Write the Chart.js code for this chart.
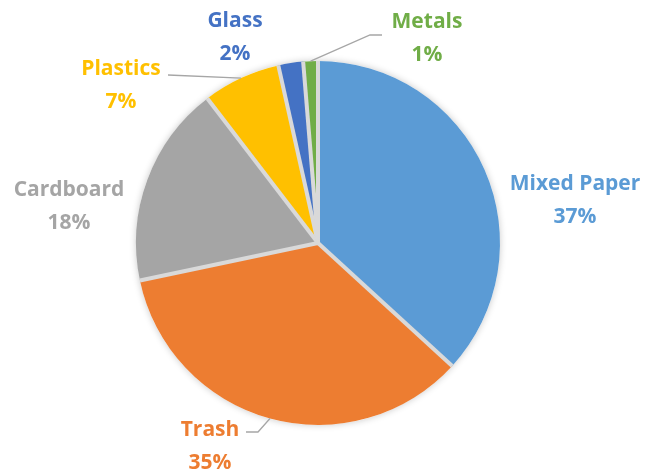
<!DOCTYPE html>
<html>
<head>
<meta charset="utf-8">
<script src="https://cdn.jsdelivr.net/npm/chart.js@4"></script>
<style>
html,body{margin:0;padding:0;background:#fff;}
</style>
</head>
<body>
<canvas id="wasteChart" width="647" height="471"></canvas>
<script>
// -----------------Data
const categories = ['Mixed Paper', 'Trash', 'Cardboard', 'Plastics', 'Glass', 'Metals'];
const shares = [36.8, 34.9, 17.9, 6.9, 2.2, 1.3];
const sliceColors = ['#5B9BD5', '#ED7D31', '#A5A5A5', '#FFC000', '#4472C4', '#70AD47'];

// where each two-line label sits, plus elbow points for the leader lines
const labelSpots = [
  {x: 575, y: 200},
  {x: 210, y: 446, leader: [[258, 432], [246, 432]]},
  {x: 69, y: 206},
  {x: 121, y: 85, leader: [[168, 75]]},
  {x: 235, y: 37},
  {x: 427, y: 38, leader: [[370, 35], [382, 35]]}
];

const sliceDecor = {
  id: 'sliceDecor',
  beforeDatasetsDraw(chart) {
    const arc = chart.getDatasetMeta(0).data[0];
    if (!arc) return;
    const ctx = chart.ctx;
    ctx.save();
    ctx.shadowColor = 'rgba(0,0,0,0.22)';
    ctx.shadowBlur = 7;
    ctx.fillStyle = '#ffffff';
    ctx.beginPath();
    ctx.arc(arc.x, arc.y, arc.outerRadius, 0, Math.PI * 2);
    ctx.fill();
    ctx.restore();
  },
  afterDatasetsDraw(chart) {
    const ctx = chart.ctx;
    const arcs = chart.getDatasetMeta(0).data;
    const total = shares.reduce((a, b) => a + b, 0);

    // separators between slices
    ctx.save();
    ctx.strokeStyle = '#d9d9d9';
    ctx.lineWidth = 4;
    arcs.forEach(a => {
      ctx.beginPath();
      ctx.moveTo(a.x, a.y);
      ctx.lineTo(a.x + Math.cos(a.startAngle) * a.outerRadius, a.y + Math.sin(a.startAngle) * a.outerRadius);
      ctx.stroke();
    });
    ctx.restore();

    // leader lines
    ctx.save();
    ctx.strokeStyle = '#a6a6a6';
    ctx.lineWidth = 1.3;
    arcs.forEach((a, i) => {
      const spot = labelSpots[i];
      if (!spot.leader) return;
      const mid = (a.startAngle + a.endAngle) / 2;
      ctx.beginPath();
      ctx.moveTo(a.x + Math.cos(mid) * a.outerRadius, a.y + Math.sin(mid) * a.outerRadius);
      spot.leader.forEach(p => ctx.lineTo(p[0], p[1]));
      ctx.stroke();
    });
    ctx.restore();

    // labels
    ctx.save();
    ctx.font = 'bold 21px "Open Sans"';
    ctx.textAlign = 'center';
    ctx.textBaseline = 'middle';
    arcs.forEach((a, i) => {
      const spot = labelSpots[i];
      ctx.fillStyle = sliceColors[i];
      ctx.fillText(categories[i], spot.x, spot.y - 16);
      ctx.fillText(Math.round(shares[i] / total * 100) + '%', spot.x, spot.y + 17);
    });
    ctx.restore();
  }
};

const ctx = document.getElementById('wasteChart').getContext('2d');
const pieChart = new Chart(ctx, {
  type: 'pie',
  data: {
    labels: categories,
    datasets: [{
      data: shares,
      backgroundColor: sliceColors,
      borderWidth: 0,
      radius: 182
    }]
  },
  options: {
    responsive: false,
    animation: false,
    layout: {
      padding: {left: 0, right: 11, top: 15, bottom: 0}
    },
    plugins: {
      legend: {display: false},
      tooltip: {enabled: false}
    }
  },
  plugins: [sliceDecor]
});
</script>
</body>
</html>
